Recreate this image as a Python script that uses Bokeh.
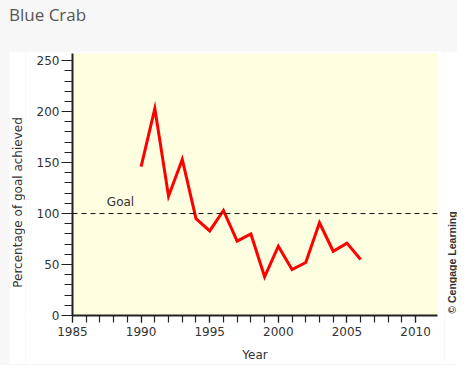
import math
from bokeh.plotting import figure
from bokeh.models import FixedTicker, Label, Span, Range1d, Div
from bokeh.layouts import column, row
from bokeh.embed import file_html
from bokeh.resources import INLINE

# Data
years = [1990, 1991, 1992, 1993, 1994, 1995, 1996, 1997, 1998, 1999,
         2000, 2001, 2002, 2003, 2004, 2005, 2006]
pct_goal = [146, 203, 117, 153, 95, 83, 103, 73, 80, 38,
            68, 45, 52, 91, 63, 71, 55]
goal = 100
x_ticks = [1985, 1990, 1995, 2000, 2005, 2010]
y_ticks = [0, 50, 100, 150, 200, 250]

FONT = "DejaVu Sans"
TXT = "#333333"
PANEL_H = 313

p = figure(width=419, height=PANEL_H, output_backend="svg",
           toolbar_location=None,
           x_range=Range1d(1985, 2011.6), y_range=Range1d(0, 257),
           min_border_left=47, min_border_right=7, min_border_top=2,
           min_border_bottom=49)
p.border_fill_color = "white"
p.background_fill_color = "#fefee0"
p.outline_line_color = None
p.grid.visible = False

# axes
xa = p.xaxis[0]
xa.ticker = FixedTicker(ticks=x_ticks, minor_ticks=list(range(1985, 2011)))
xa.axis_label = "Year"
ya = p.yaxis[0]
ya.ticker = FixedTicker(ticks=y_ticks, minor_ticks=list(range(0, 251, 10)))
for ax in (xa, ya):
    ax.axis_line_color = "#222222"
    ax.axis_line_width = 2
    ax.major_tick_line_color = "#222222"
    ax.minor_tick_line_color = "#222222"
    ax.major_tick_line_width = 1.2
    ax.minor_tick_line_width = 1.2
    ax.major_tick_in = 0
    ax.minor_tick_in = 0
    ax.major_label_text_font = FONT
    ax.major_label_text_font_size = "12px"
    ax.major_label_text_color = TXT
    ax.axis_label_text_font = FONT
    ax.axis_label_text_font_size = "12px"
    ax.axis_label_text_font_style = "normal"
    ax.axis_label_text_color = TXT
xa.major_tick_out = 7
xa.minor_tick_out = 7
xa.major_label_standoff = 4
xa.axis_label_standoff = 9
ya.major_tick_out = 11
ya.minor_tick_out = 8
ya.major_label_standoff = 2

# goal line
p.add_layout(Span(location=goal, dimension="width", line_color="#111111",
                  line_width=1, line_dash="5 4"))
p.add_layout(Label(x=1988.5, y=goal + 4, text="Goal", text_align="center",
                   text_baseline="bottom", text_font=FONT,
                   text_font_size="12px", text_color=TXT))

# data line
p.line(years, pct_goal, line_color="#ff0000", line_width=3, line_join="miter")


def text_strip(width, text, x, y, font, size, style, color):
    f = figure(width=width, height=PANEL_H, output_backend="svg",
               toolbar_location=None, x_axis_location=None,
               y_axis_location=None, x_range=Range1d(0, 1),
               y_range=Range1d(0, 1), min_border=0)
    f.border_fill_color = "white"
    f.background_fill_color = "white"
    f.outline_line_color = None
    f.grid.visible = False
    f.add_layout(Label(x=x, y=y, x_units="screen", y_units="screen",
                       text=text, angle=math.pi / 2, text_font=font,
                       text_font_size=size, text_font_style=style,
                       text_color=color, text_align="center",
                       text_baseline="middle"))
    return f


# y-axis title strip (left) and credit strip (right)
ylab = text_strip(16, "Percentage of goal achieved", 8, 113, FONT, "12px",
                  "normal", TXT)
credit = text_strip(13, "© Cengage Learning", 7, 53, "Liberation Sans",
                    "10.5px", "bold", "#333333")

title = Div(text=("<div style=\"margin:0;padding:5px 0 0 9px;font-size:17px;"
                  "line-height:20px;font-family:'Open Sans';color:#555555;\">"
                  "Blue Crab</div>"),
            width=457, height=51, margin=(0, 0, 0, 0))

chart = row(ylab, p, credit, margin=(0, 0, 1, 9))
layout = column(title, chart, width=457, height=365,
                styles={"background-color": "#f7f7f7"})

open("out.html", "w").write(file_html(layout, INLINE))
